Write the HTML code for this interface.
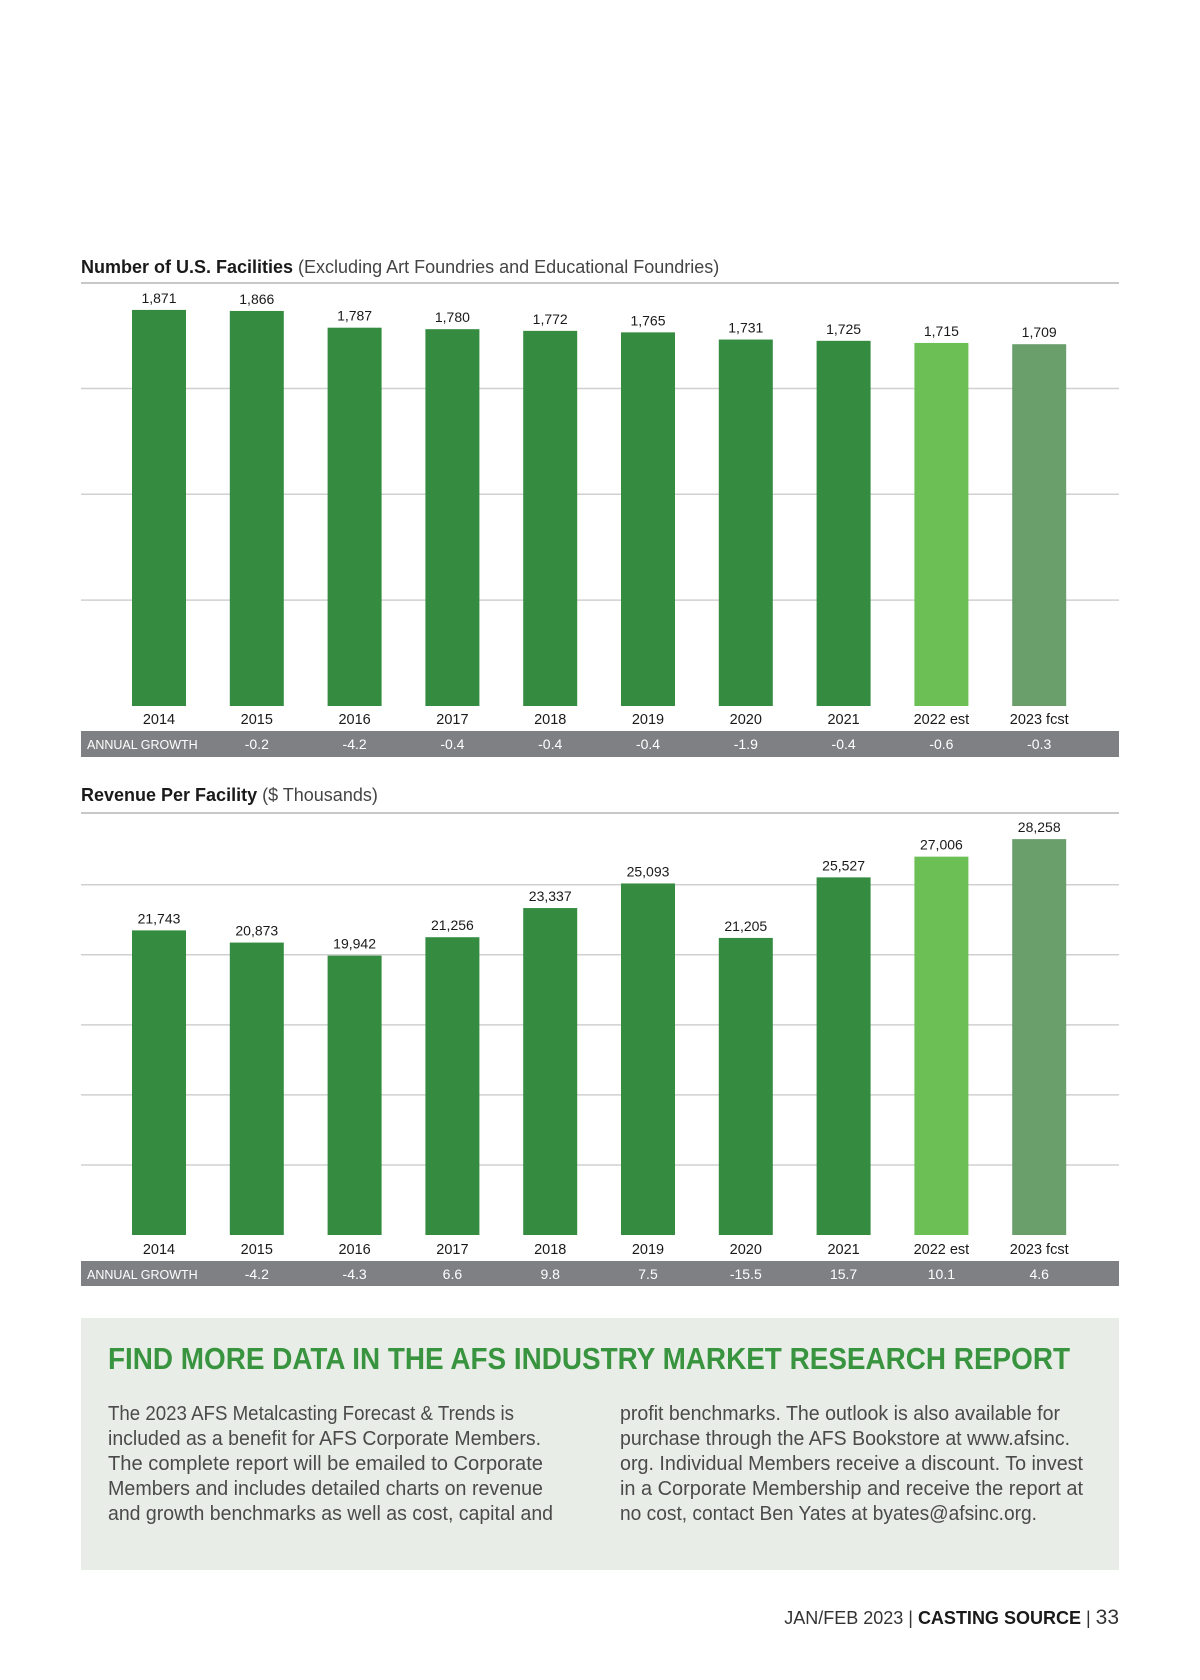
<!DOCTYPE html>
<html><head><meta charset="utf-8"><style>
html,body{margin:0;padding:0;background:#fff;}
svg{display:block;font-family:"Liberation Sans",sans-serif;}
</style></head><body>
<svg id="page" width="1200" height="1680" viewBox="0 0 1200 1680" xmlns="http://www.w3.org/2000/svg">
<g id="c1">
<text x="81" y="273" font-size="18" fill="#1a1a1a"><tspan font-weight="bold">Number of U.S. Facilities</tspan><tspan fill="#444"> (Excluding Art Foundries and Educational Foundries)</tspan></text>
<line x1="81" y1="283" x2="1119" y2="283" stroke="#c8c8c8" stroke-width="2"/>
<rect x="81" y="731" width="1038" height="26" fill="#7f8083"/>
<text x="87" y="749" font-size="12.5" fill="#fff">ANNUAL GROWTH</text>
</g>
<g id="c2">
<text x="81" y="801" font-size="18" fill="#1a1a1a"><tspan font-weight="bold">Revenue Per Facility</tspan><tspan fill="#444"> ($ Thousands)</tspan></text>
<line x1="81" y1="813" x2="1119" y2="813" stroke="#c8c8c8" stroke-width="2"/>
<rect x="81" y="1261" width="1038" height="25" fill="#7f8083"/>
<text x="87" y="1279" font-size="12.5" fill="#fff">ANNUAL GROWTH</text>
</g>
<g>
<rect x="81" y="1318" width="1038" height="252" fill="#e9ede7"/>
<text x="108" y="1369" font-size="31" font-weight="bold" fill="#38943f" textLength="962" lengthAdjust="spacingAndGlyphs">FIND MORE DATA IN THE AFS INDUSTRY MARKET RESEARCH REPORT</text>
<g font-size="20" fill="#4a4a4a">
<text x="108" y="1420" textLength="406" lengthAdjust="spacingAndGlyphs">The 2023 AFS Metalcasting Forecast &amp; Trends is</text>
<text x="108" y="1445" textLength="433" lengthAdjust="spacingAndGlyphs">included as a benefit for AFS Corporate Members.</text>
<text x="108" y="1470" textLength="435" lengthAdjust="spacingAndGlyphs">The complete report will be emailed to Corporate</text>
<text x="108" y="1495" textLength="435" lengthAdjust="spacingAndGlyphs">Members and includes detailed charts on revenue</text>
<text x="108" y="1520" textLength="445" lengthAdjust="spacingAndGlyphs">and growth benchmarks as well as cost, capital and</text>
</g>
<g font-size="20" fill="#4a4a4a">
<text x="620" y="1420" textLength="440" lengthAdjust="spacingAndGlyphs">profit benchmarks. The outlook is also available for</text>
<text x="620" y="1445" textLength="450" lengthAdjust="spacingAndGlyphs">purchase through the AFS Bookstore at www.afsinc.</text>
<text x="620" y="1470" textLength="463" lengthAdjust="spacingAndGlyphs">org. Individual Members receive a discount. To invest</text>
<text x="620" y="1495" textLength="463" lengthAdjust="spacingAndGlyphs">in a Corporate Membership and receive the report at</text>
<text x="620" y="1520" textLength="417" lengthAdjust="spacingAndGlyphs">no cost, contact Ben Yates at byates@afsinc.org.</text>
</g>
</g>
<text x="1119" y="1624" font-size="18" fill="#333" text-anchor="end">JAN/FEB 2023 | <tspan font-weight="bold" fill="#1a1a1a">CASTING SOURCE</tspan> | <tspan font-size="21">33</tspan></text>
</svg>
<script>
const years = ["2014","2015","2016","2017","2018","2019","2020","2021","2022 est","2023 fcst"];
const facilities = [1871,1866,1787,1780,1772,1765,1731,1725,1715,1709];
const facilitiesGrowth = ["-0.2","-4.2","-0.4","-0.4","-0.4","-1.9","-0.4","-0.6","-0.3"];
const facilitiesTicks = [500,1000,1500];
const revenue = [21743,20873,19942,21256,23337,25093,21205,25527,27006,28258];
const revenueGrowth = ["-4.2","-4.3","6.6","9.8","7.5","-15.5","15.7","10.1","4.6"];
const revenueTicks = [5000,10000,15000,20000,25000];

const NS = "http://www.w3.org/2000/svg";
const colors = i => i === 8 ? "#6cbf55" : (i === 9 ? "#6a9f6c" : "#358c41");
function mk(parent, tag, attrs, txt) {
  const e = document.createElementNS(NS, tag);
  for (const k in attrs) e.setAttribute(k, attrs[k]);
  if (txt !== undefined) e.textContent = txt;
  parent.appendChild(e);
  return e;
}
function drawChart(gid, vals, growth, ticks, base, scale, yearY, growthY) {
  const g = document.getElementById(gid);
  const xc = i => 159 + i * 97.8;
  const y = v => base - v * scale;
  ticks.forEach(t => {
    const l = mk(g, "line", {x1: 81, x2: 1119, y1: y(t), y2: y(t), stroke: "#d0d0d0", "stroke-width": 1.5});
    
    
  });
  vals.forEach((v, i) => {
    const r = mk(g, "rect", {x: xc(i) - 27, y: y(v), width: 54, height: base - y(v), fill: colors(i)});
    
    
    const lb = mk(g, "text", {x: xc(i), y: y(v) - 7, "font-size": 14, fill: "#1a1a1a", "text-anchor": "middle"}, v.toLocaleString("en-US"));
    
    
    const yl = mk(g, "text", {x: xc(i), y: yearY, "font-size": 14.5, fill: "#1a1a1a", "text-anchor": "middle"}, years[i]);
    
    
  });
  growth.forEach((s, j) => {
    const t = mk(g, "text", {x: xc(j + 1), y: growthY, "font-size": 14, fill: "#fff", "text-anchor": "middle"}, s);
    
    
  });
}
drawChart("c1", facilities, facilitiesGrowth, facilitiesTicks, 706, 0.2117, 724, 749);
drawChart("c2", revenue, revenueGrowth, revenueTicks, 1235, 0.01401, 1254, 1279);
</script>
</body></html>
